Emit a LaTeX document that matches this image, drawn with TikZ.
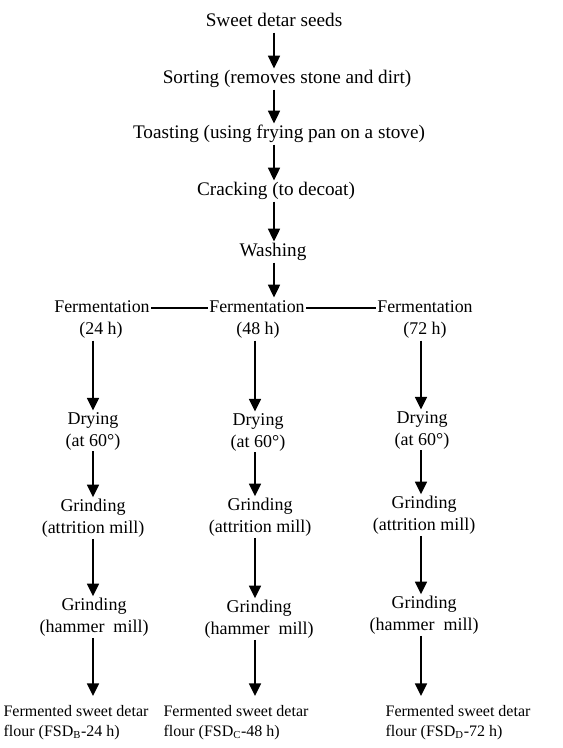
\documentclass[tikz,border=0pt]{standalone}
\usepackage{fontspec}
\setmainfont{Liberation Serif}
\usepackage{tikz}
\usetikzlibrary{arrows.meta,positioning,calc}

\begin{document}
\begin{tikzpicture}[
  x=0.75pt, y=-0.75pt,
  >={Triangle[length=9.5pt, width=9pt]},
  stage/.style={inner xsep=1pt, inner ysep=1.5pt, align=center, font=\fontsize{14.4}{16.5}\selectfont, text height=9.5pt, text depth=3pt},
  branch/.style={stage, font=\fontsize{13.4}{16.5}\selectfont},
  twoline/.style={inner xsep=1pt, inner ysep=1pt, align=center, font=\fontsize{13.5}{16.5}\selectfont},
  prod/.style={inner xsep=1pt, inner ysep=6.5pt, align=left, anchor=north west, font=\fontsize{12}{15}\selectfont},
  ar/.style={->, line width=1.3pt},
  ln/.style={line width=1.3pt},
]
\useasboundingbox (0,0) rectangle (562,748);
\node[stage] (seeds) at (274,22) {Sweet detar seeds};
\node[stage] (sort) at (287,79) {Sorting (removes stone and dirt)};
\node[stage] (toast) at (279,134) {Toasting (using frying pan on a stove)};
\node[stage] (crack) at (276,191) {Cracking (to decoat)};
\node[stage] (wash) at (273,252) {Washing};
\node[branch] (ferA) at (102,308) {Fermentation};
\node[branch] (ferB) at (257,308) {Fermentation};
\node[branch] (ferC) at (425,308) {Fermentation};
\node[branch] (ferAh) at (101,330) {(24 h)};
\node[branch] (ferBh) at (258,330) {(48 h)};
\node[branch] (ferCh) at (425,330) {(72 h)};
\coordinate (colA) at (93,0);
\coordinate (colB) at (255,0);
\coordinate (colC) at (421,0);
\node[twoline] (dryA) at (93,431) {Drying\\(at 60°)};
\node[twoline] (dryB) at (258,432) {Drying\\(at 60°)};
\node[twoline] (dryC) at (422,430) {Drying\\(at 60°)};
\node[twoline] (attA) at (93,518) {Grinding\\(attrition mill)};
\node[twoline] (attB) at (260,517) {Grinding\\(attrition mill)};
\node[twoline] (attC) at (424,515) {Grinding\\(attrition mill)};
\node[twoline] (hamA) at (94,617) {Grinding\\(hammer\ \ mill)};
\node[twoline] (hamB) at (259,619) {Grinding\\(hammer\ \ mill)};
\node[twoline] (hamC) at (424,615) {Grinding\\(hammer\ \ mill)};
\node[prod] (flourA) at (2,696) {Fermented sweet detar\\flour (FSD\textsubscript{B}-24 h)};
\node[prod] (flourB) at (162,696) {Fermented sweet detar\\flour (FSD\textsubscript{C}-48 h)};
\node[prod] (flourC) at (384,696) {Fermented sweet detar\\flour (FSD\textsubscript{D}-72 h)};
\draw[ar] (seeds.south) -- (seeds.south |- sort.north);
\draw[ar] (seeds.south |- sort.south) -- (seeds.south |- toast.north);
\draw[ar] (seeds.south |- toast.south) -- (seeds.south |- crack.north);
\draw[ar] (seeds.south |- crack.south) -- (seeds.south |- wash.north);
\draw[ar] (seeds.south |- wash.south) -- (seeds.south |- ferB.north);
\draw[ln] (ferA.east) -- (ferB.west);
\draw[ln] (ferB.east) -- (ferC.west);
\draw[ar] (colA |- ferAh.south) -- (colA |- dryA.north);
\draw[ar] (colB |- ferBh.south) -- (colB |- dryB.north);
\draw[ar] (colC |- ferCh.south) -- (colC |- dryC.north);
\draw[ar] (colA |- dryA.south) -- (colA |- attA.north);
\draw[ar] (colB |- dryB.south) -- (colB |- attB.north);
\draw[ar] (colC |- dryC.south) -- (colC |- attC.north);
\draw[ar] (colA |- attA.south) -- (colA |- hamA.north);
\draw[ar] (colB |- attB.south) -- (colB |- hamB.north);
\draw[ar] (colC |- attC.south) -- (colC |- hamC.north);
\draw[ar] (colA |- hamA.south) -- (colA |- flourA.north);
\draw[ar] (colB |- hamB.south) -- (colB |- flourB.north);
\draw[ar] (colC |- hamC.south) -- (colC |- flourC.north);
\end{tikzpicture}
\end{document}
